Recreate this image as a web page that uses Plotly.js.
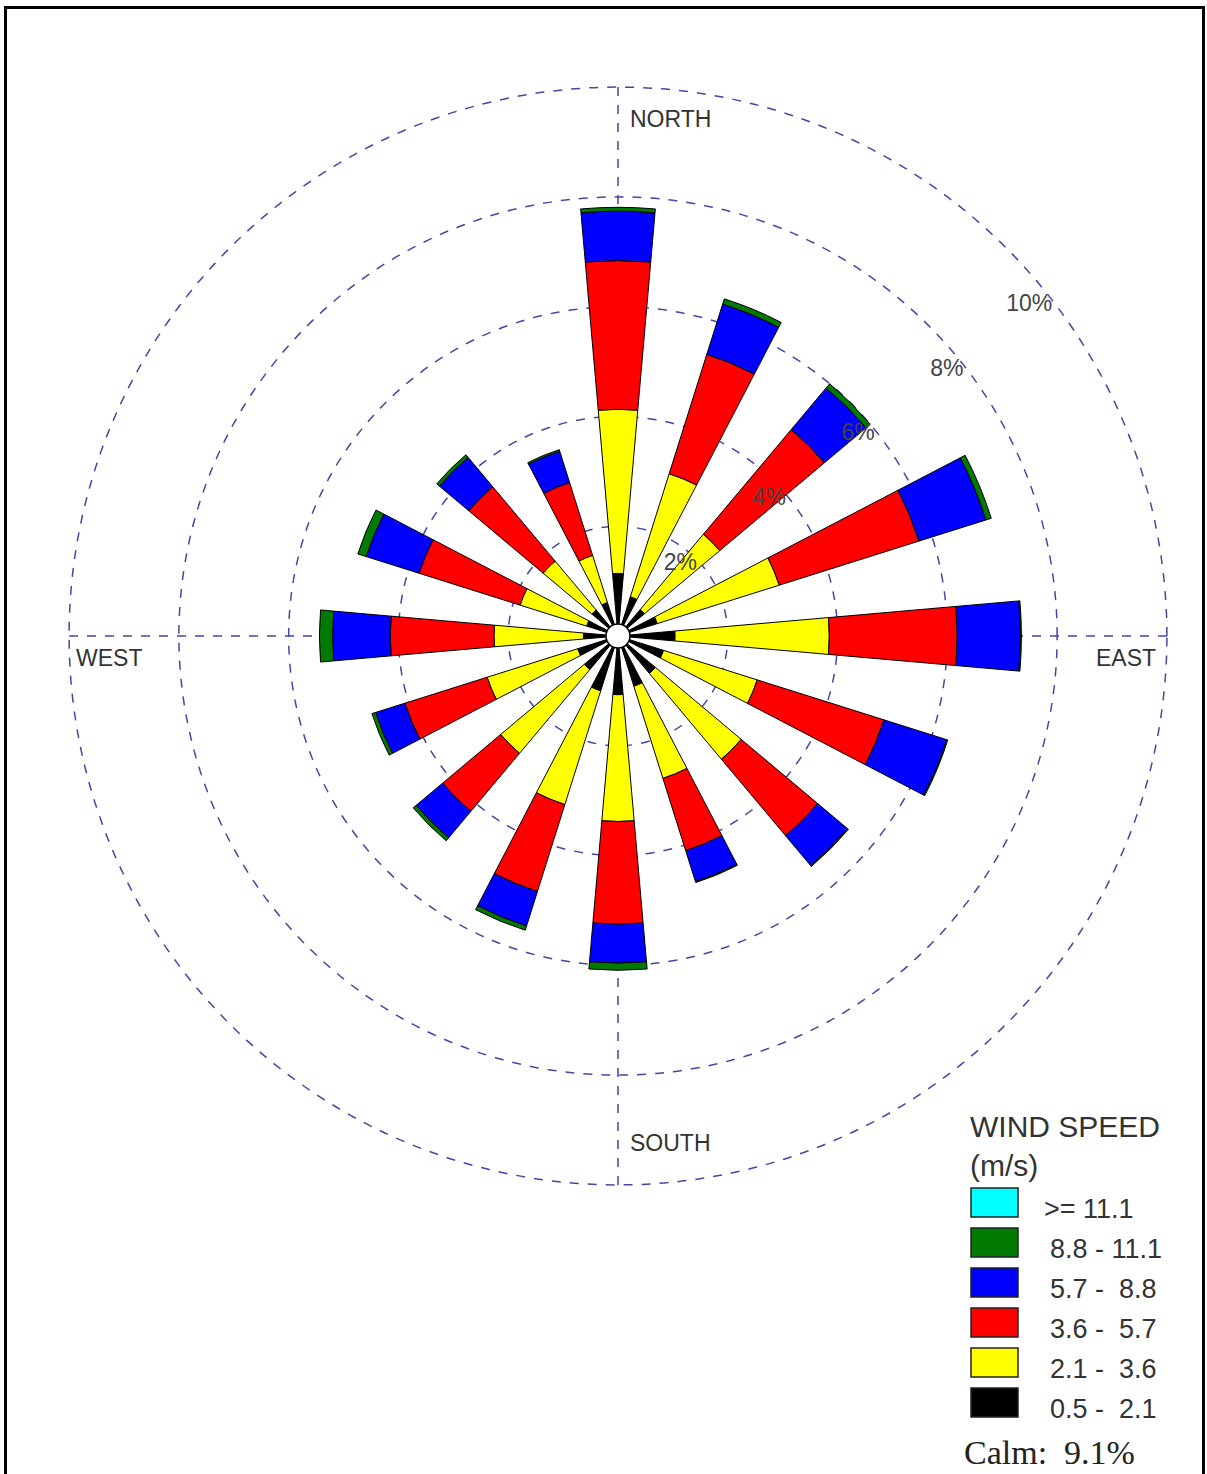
<!DOCTYPE html>
<html><head><meta charset="utf-8">
<script src="https://cdn.plot.ly/plotly-3.0.1.min.js"></script>
<style>
html,body{margin:0;padding:0;background:#fff;overflow:hidden;}
#chart{position:absolute;left:0;top:0;width:1207px;height:1474px;}
#frame{position:absolute;left:4px;top:6px;width:1201px;height:1468px;border:3px solid #000;border-bottom:none;box-sizing:border-box;pointer-events:none;}
</style></head><body>
<div id="chart"></div><div id="frame"></div>
<script>
// 16 wind directions (clockwise from north)
const directions = ['N','NNE','NE','ENE','E','ESE','SE','SSE','S','SSW','SW','WSW','W','WNW','NW','NNW'];
// wind speed classes (m/s)
const speedBins = ['0.5 - 2.1','2.1 - 3.6','3.6 - 5.7','5.7 - 8.8','8.8 - 11.1','>= 11.1'];
const legendLabels = ['0.5 -\u00a0 2.1','2.1 -\u00a0 3.6','3.6 -\u00a0 5.7','5.7 -\u00a0 8.8','8.8 - 11.1','>= 11.1'];
const binColors = ['#000000','#ffff00','#ff0000','#0000ff','#007a00','#00ffff'];
// frequency (%) per direction for each speed class
const freq_0_5_2_1  = [1.14,0.75,0.63,0.75,1.04,0.87,0.89,0.96,1.07,1.05,0.80,0.77,0.63,0.60,0.62,0.64];
const freq_2_1_3_6  = [2.99,2.35,1.79,2.33,2.81,1.79,2.04,1.76,2.31,2.17,1.99,1.73,1.63,1.27,1.16,0.90];
const freq_3_6_5_7  = [2.71,2.28,2.49,2.67,2.33,2.42,1.82,1.38,1.87,1.66,1.38,1.57,1.89,1.93,1.77,1.39];
const freq_5_7_8_8  = [0.90,0.96,0.99,1.28,1.15,1.20,0.71,0.59,0.71,0.66,0.63,0.56,1.05,1.01,0.70,0.60];
const freq_8_8_11_1 = [0.07,0.10,0.10,0.10,0.02,0.02,0.02,0.02,0.13,0.08,0.07,0.07,0.24,0.16,0.06,0.03];
const freq_ge_11_1  = [0,0,0,0,0,0,0,0,0,0,0,0,0,0,0,0];
const calmPercent = 9.1;
// ring / tick labels
const ringValues = [2,4,6,8,10];
const ringLabels = ['2%','4%','6%','8%','10%'];
const cardinalLabels = ['NORTH','EAST','SOUTH','WEST'];

const series = [freq_0_5_2_1, freq_2_1_3_6, freq_3_6_5_7, freq_5_7_8_8, freq_8_8_11_1, freq_ge_11_1];
const theta = directions.map((d,i)=>i*360/directions.length);

const W = 1207, H = 1474;
const px = x => x / W;
const py = y => 1 - y / H;

const traces = series.map((vals,k)=>({
  type:'barpolar',
  name: speedBins[k],
  r: vals,
  theta: theta,
  width: 10,
  marker:{color: binColors[k], line:{color:'#000', width:1}},
  showlegend:false,
  hoverinfo:'skip'
}));
traces.push({
  type:'scatterpolar', r:[0], theta:[0], mode:'markers',
  marker:{size:24, color:'#fff', line:{color:'#000', width:1.5}},
  showlegend:false, hoverinfo:'skip'
});

const gridColor = '#4646a6';
const cx = 618, cy = 636, R = 550;
const radialAngle = 36;

const annotations = [];
const shapes = [];
const lblFont = {family:'Liberation Sans, Arial, sans-serif', size:23, color:'#333'};
annotations.push({text:cardinalLabels[0], x:px(628), y:py(119), xref:'paper', yref:'paper', xanchor:'left', yanchor:'middle', showarrow:false, font:lblFont});
annotations.push({text:cardinalLabels[1], x:px(1158), y:py(658), xref:'paper', yref:'paper', xanchor:'right', yanchor:'middle', showarrow:false, font:lblFont});
annotations.push({text:cardinalLabels[2], x:px(628), y:py(1143), xref:'paper', yref:'paper', xanchor:'left', yanchor:'middle', showarrow:false, font:lblFont});
annotations.push({text:cardinalLabels[3], x:px(74), y:py(658), xref:'paper', yref:'paper', xanchor:'left', yanchor:'middle', showarrow:false, font:lblFont});

// legend
const legFont = {family:'Liberation Sans, Arial, sans-serif', size:27, color:'#333'};
annotations.push({text:'WIND SPEED<br>(m/s)', x:px(968), y:py(1108), xref:'paper', yref:'paper', xanchor:'left', yanchor:'top', align:'left', showarrow:false, font:{family:'Liberation Sans, Arial, sans-serif', size:30, color:'#333'}});
for (let i=0;i<speedBins.length;i++){
  const k = speedBins.length-1-i;
  const top = 1188 + i*40;
  shapes.push({type:'rect', xref:'paper', yref:'paper', x0:px(971), x1:px(1018), y0:py(top), y1:py(top+29), fillcolor:binColors[k], line:{color:'#222', width:1.5}});
  annotations.push({text:legendLabels[k], x:px(k===5?1042:1048), y:py(top+21), xref:'paper', yref:'paper', xanchor:'left', yanchor:'middle', showarrow:false, font:legFont});
}
annotations.push({text:'Calm:\u00a0 ' + calmPercent.toFixed(1) + '%', x:px(962), y:py(1452), xref:'paper', yref:'paper', xanchor:'left', yanchor:'middle', showarrow:false, font:{family:'Liberation Serif, Times New Roman, serif', size:34, color:'#222'}});

const layout = {
  width:W, height:H,
  margin:{l:0,r:0,t:0,b:0},
  paper_bgcolor:'#fff',
  showlegend:false,
  polar:{
    domain:{x:[px(cx-R), px(cx+R)], y:[py(cy+R), py(cy-R)]},
    bgcolor:'#fff',
    barmode:'stack',
    radialaxis:{
      range:[0,10.02], tickmode:'array', tickvals:ringValues, ticktext:ringLabels,
      showline:false, ticks:'', angle:radialAngle, side:'counterclockwise', tickangle:radialAngle,
      gridcolor:gridColor, gridwidth:1.5, griddash:'dash',
      tickfont:{family:'Liberation Sans, Arial, sans-serif', size:23, color:'#444'}
    },
    angularaxis:{
      rotation:90, direction:'clockwise',
      tickmode:'array', tickvals:[0,90,180,270], showticklabels:false, ticks:'',
      showline:false, gridcolor:gridColor, gridwidth:1.5, griddash:'dash'
    }
  },
  annotations: annotations,
  shapes: shapes
};
Plotly.newPlot('chart', traces, layout, {staticPlot:true, displayModeBar:false});
</script>
</body></html>
